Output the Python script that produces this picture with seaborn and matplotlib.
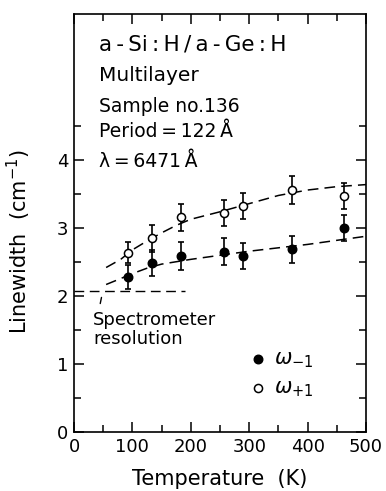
import matplotlib
matplotlib.use("Agg")
import matplotlib.pyplot as plt
import seaborn as sns
import pandas as pd
import numpy as np

# ---- data ----
temp = [93, 133, 183, 257, 289, 373, 462]
w_minus = [2.28, 2.49, 2.59, 2.65, 2.59, 2.69, 3.00]
w_minus_err = [0.18, 0.19, 0.2, 0.2, 0.19, 0.2, 0.19]
w_plus = [2.64, 2.85, 3.16, 3.22, 3.32, 3.56, 3.47]
w_plus_err = [0.16, 0.2, 0.2, 0.19, 0.19, 0.2, 0.19]

fit_upper_x = [55, 80, 100, 125, 150, 175, 200, 250, 300, 350, 400, 450, 500]
fit_upper_y = [2.42, 2.54, 2.68, 2.81, 2.93, 3.04, 3.13, 3.24, 3.36, 3.48, 3.56, 3.61, 3.64]
fit_lower_x = [55, 75, 100, 125, 150, 200, 250, 300, 350, 400, 450, 500]
fit_lower_y = [2.17, 2.24, 2.33, 2.41, 2.47, 2.54, 2.60, 2.66, 2.71, 2.76, 2.82, 2.88]

resolution_x = [0, 190]
resolution_y = [2.08, 2.08]

xticks = [0, 100, 200, 300, 400, 500]
yticks = [0, 1, 2, 3, 4]

sns.set_style("ticks")
plt.rcParams['font.family'] = ['DejaVu Sans']
plt.rcParams['mathtext.fontset'] = 'dejavusans'
plt.rcParams['text.color'] = 'black'
plt.rcParams['axes.labelcolor'] = 'black'
plt.rcParams['xtick.color'] = 'black'
plt.rcParams['ytick.color'] = 'black'
plt.rcParams['axes.edgecolor'] = 'black'

fig = plt.figure(figsize=(3.86, 4.91), dpi=100)
ax = fig.add_axes([74/386, 1-432/491, 292/386, 418/491])

df = pd.DataFrame({"T": temp, "wm": w_minus, "wp": w_plus})
fu = pd.DataFrame({"x": fit_upper_x, "y": fit_upper_y})
fl = pd.DataFrame({"x": fit_lower_x, "y": fit_lower_y})
res = pd.DataFrame({"x": resolution_x, "y": resolution_y})

dash = (7, 4)
sns.lineplot(data=fu, x="x", y="y", ax=ax, color="black", lw=1.1, dashes=False)
sns.lineplot(data=fl, x="x", y="y", ax=ax, color="black", lw=1.1, dashes=False)
sns.lineplot(data=res, x="x", y="y", ax=ax, color="black", lw=1.0, dashes=False)
for ln in ax.lines:
    ln.set_dashes(dash)

ax.errorbar(temp, w_minus, yerr=w_minus_err, fmt="none", ecolor="black",
            elinewidth=1.2, capsize=2.5, capthick=1.2)
ax.errorbar(temp, w_plus, yerr=w_plus_err, fmt="none", ecolor="black",
            elinewidth=1.2, capsize=2.5, capthick=1.2)

sns.scatterplot(data=df, x="T", y="wm", ax=ax, color="black", s=38,
                edgecolor="black", linewidth=1, label=r"$\omega_{-1}$", zorder=5)
sns.scatterplot(data=df, x="T", y="wp", ax=ax, color="white", s=34,
                edgecolor="black", linewidth=1.1, label=r"$\omega_{+1}$", zorder=5)

ax.set_xlim(0, 500)
ax.set_ylim(0, 6.15)
ax.set_xticks(xticks)
ax.set_xticks(np.arange(50, 500, 100), minor=True)
ax.set_yticks(yticks)
ax.set_yticks(np.arange(0.5, 5.0, 1.0), minor=True)
ax.tick_params(which="both", direction="in", top=True, right=True,
               width=1.1, labelsize=13, pad=4)
ax.tick_params(which="major", length=7)
ax.tick_params(which="minor", length=5)
for s in ax.spines.values():
    s.set_linewidth(1.2)

ax.set_xlabel("Temperature  (K)", fontsize=15, labelpad=10)
ax.set_ylabel(r"Linewidth  (cm$^{-1}$)", fontsize=15)
ax.yaxis.set_label_coords(-0.14, 0.455)

# annotations
ts = "\u2009"
ax.text(0.086, 0.926, f"a{ts}-{ts}Si{ts}:{ts}H{ts}/{ts}a{ts}-{ts}Ge{ts}:{ts}H",
        transform=ax.transAxes, fontsize=15.5, va="center")
ax.text(0.086, 0.854, "Multilayer", transform=ax.transAxes, fontsize=14.5, va="center")
ax.text(0.086, 0.778, "Sample no.136", transform=ax.transAxes, fontsize=13.5, va="center")
ax.text(0.086, 0.718, f"Period{ts}={ts}122{ts}Å", transform=ax.transAxes, fontsize=13.5, va="center")
ax.text(0.086, 0.646, f"λ{ts}={ts}6471{ts}Å", transform=ax.transAxes, fontsize=13.5, va="center")

ax.annotate("", xy=(48, 2.02), xytext=(44, 1.85),
            arrowprops=dict(arrowstyle="-", color="black", lw=1.0))
ax.text(33, 1.78, "Spectrometer\nresolution", fontsize=13, va="top", ha="left",
        linespacing=1.1)

leg = ax.legend(loc="upper left", bbox_to_anchor=(0.565, 0.22), frameon=False,
                fontsize=15, handletextpad=0.3, labelspacing=0.35,
                handlelength=1.0, borderaxespad=0)

fig.savefig("out.png", dpi=100)
